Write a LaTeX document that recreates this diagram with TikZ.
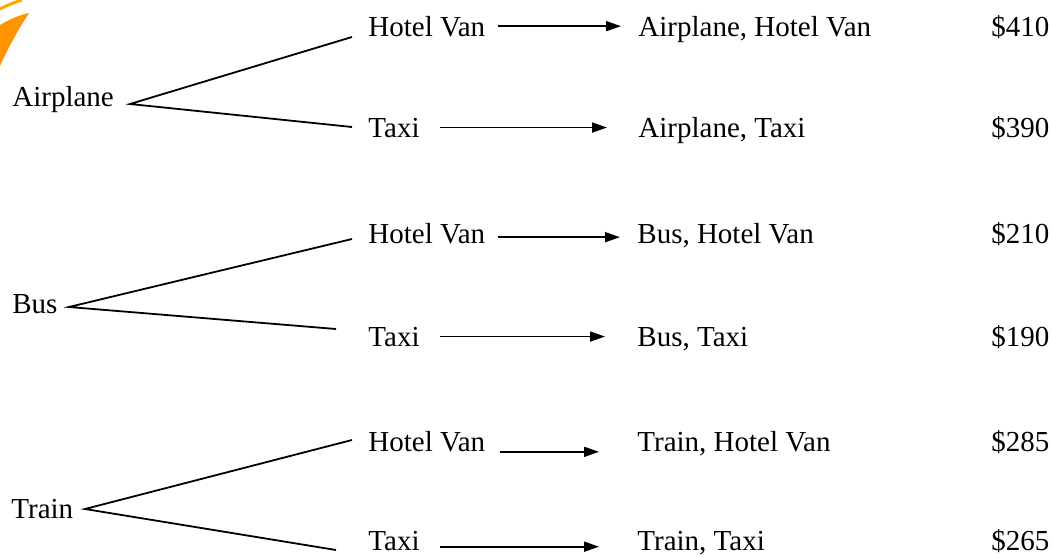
\documentclass[tikz,border=0pt]{standalone}
\usepackage{fontspec}
\setmainfont{Liberation Serif}
\usetikzlibrary{arrows.meta}

\begin{document}
\begin{tikzpicture}[x=0.5pt,y=-0.5pt,
  lbl/.style={anchor=base west,inner sep=0pt,font=\fontsize{14.5}{17}\selectfont},
  branch/.style={line width=0.9pt},
  arr/.style={line width=0.9pt,-{Triangle[length=7.5pt,width=5pt]}}]
\useasboundingbox (0,0) rectangle (1053,557);

% orange swoosh in the corner
\fill[orange!85!yellow] (0,25) .. controls (12,18) and (20,15) .. (29,13)
  .. controls (18,30) and (8,48) .. (0,66) -- cycle;
\draw[orange!70!yellow,line width=1.5pt] (0,9) .. controls (8,5) and (15,2) .. (22,0);

% first choice
\node[lbl] (air) at (12,106) {Airplane};
\node[lbl] (bus) at (12,313) {Bus};
\node[lbl] (train) at (11,518) {Train};

% second choice
\node[lbl] (hv1) at (368,36) {Hotel Van};
\node[lbl] (tx1) at (368,137) {Taxi};
\node[lbl] (hv2) at (368,243) {Hotel Van};
\node[lbl] (tx2) at (368,346) {Taxi};
\node[lbl] (hv3) at (368,451) {Hotel Van};
\node[lbl] (tx3) at (368,550) {Taxi};

% outcomes
\node[lbl] (o1) at (638,36) {Airplane, Hotel Van};
\node[lbl] (o2) at (638,137) {Airplane, Taxi};
\node[lbl] (o3) at (637,243) {Bus, Hotel Van};
\node[lbl] (o4) at (637,346) {Bus, Taxi};
\node[lbl] (o5) at (637,451) {Train, Hotel Van};
\node[lbl] (o6) at (637,550) {Train, Taxi};

% costs
\node[lbl] (c1) at (991,36) {\$410};
\node[lbl] (c2) at (991,137) {\$390};
\node[lbl] (c3) at (991,243) {\$210};
\node[lbl] (c4) at (991,346) {\$190};
\node[lbl] (c5) at (991,451) {\$285};
\node[lbl] (c6) at (991,550) {\$265};

% branch points
\coordinate (airtip) at (130,104);
\coordinate (bustip) at (69,307);
\coordinate (traintip) at (85,509);
\coordinate (hv1end) at (352,37);
\coordinate (tx1end) at (352,127);
\coordinate (hv2end) at (352,239);
\coordinate (tx2end) at (336,329);
\coordinate (hv3end) at (352,440);
\coordinate (tx3end) at (336,550);

\draw[branch] (hv1end) -- (airtip) -- (tx1end);
\draw[branch] (hv2end) -- (bustip) -- (tx2end);
\draw[branch] (hv3end) -- (traintip) -- (tx3end);

% arrows to outcomes
\draw[arr,shorten <=6pt,shorten >=8.5pt] (hv1.east) -- (hv1.east -| o1.west);
\draw[arr,shorten <=10pt,shorten >=15.5pt] (tx1.east) -- (tx1.east -| o2.west);
\draw[arr,shorten <=6pt,shorten >=8.5pt] ([yshift=-2pt]hv2.east) -- ([yshift=-2pt]hv2.east -| o3.west);
\draw[arr,shorten <=10pt,shorten >=16pt] (tx2.east) -- (tx2.east -| o4.west);
\draw[arr,shorten <=7pt,shorten >=19pt] (hv3.south east) -- (hv3.south east -| o5.west);
\draw[arr,shorten <=10pt,shorten >=19pt] ([yshift=2pt]tx3.south east) -- ([yshift=2pt]tx3.south east -| o6.west);
\end{tikzpicture}
\end{document}
